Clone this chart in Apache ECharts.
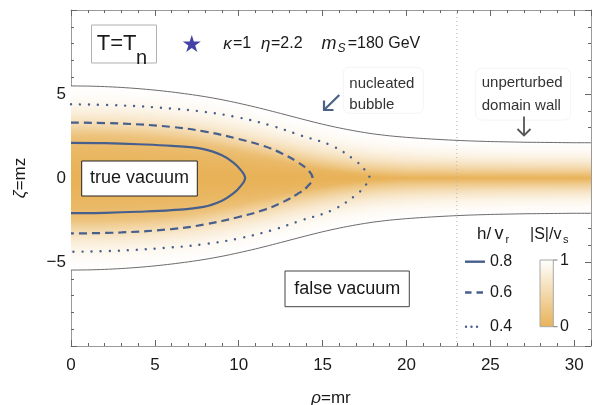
<!DOCTYPE html>
<html><head><meta charset="utf-8">
<script src="https://cdn.jsdelivr.net/npm/echarts@6/dist/echarts.min.js"></script>
<style>html,body{margin:0;padding:0;background:#fff}#c{width:598px;height:405px}</style>
</head><body><div id="c"></div>
<script>
const FONT = "'Liberation Sans', Arial, sans-serif";

// ---- data ----
const xRange = [0, 31];
const yRange = [-10, 10];
const xMajor = 5, yMajor = 5, minorStep = 1;
// envelope (outer boundary of the |S| region), upper half-width vs rho
const envX    = [0,1,2,3,4,5,6,7,8,9,10,11,12,13,14,15,16,17,18,19,20,21,22,23,24,25,26,27,28,29,30,31];
const envHalf = [5.48,5.47,5.44,5.39,5.32,5.23,5.12,4.99,4.84,4.66,4.45,4.22,3.97,3.71,3.45,3.20,2.98,2.79,2.63,2.51,2.42,2.35,2.29,2.24,2.20,2.17,2.15,2.13,2.12,2.11,2.10,2.10];
// half-width of the saturated (|S|~0) core
const coreHalf = [2.5,2.5,2.48,2.45,2.4,2.33,2.24,2.12,1.98,1.8,1.6,1.38,1.15,0.92,0.7,0.52,0.36,0.22,0.12,0.05,0,0,0,0,0,0,0,0,0,0,0,0];
// h/v_r contours (upper halves)
const solidX = [0,2,4,6,7.9,9,9.68,10.1,10.38];
const solidY = [2.09,2.07,2.01,1.91,1.72,1.35,0.92,0.5,0];
const dashX  = [0,3,6,8,10,11.5,12.6,13.5,14.1,14.4];
const dashY  = [3.3,3.24,3.04,2.76,2.32,1.9,1.45,0.95,0.5,0];
const dotX   = [0,3,6,8,10,12,13.65,15.6,17,17.5,17.8];
const dotY   = [4.39,4.32,4.13,3.93,3.6,3.1,2.55,1.9,1.0,0.5,0];
const wallLineX = 23;
const starPt = [7.2, 8.0];
const contourLevels = ['0.8','0.6','0.4'];
const cbarLabels = ['1','0'];

// ---- styling helpers ----
const ORANGE = [232,178,88];
function mix(S){
  const c = ORANGE.map(v => Math.round(v + (255 - v) * S));
  return `rgb(${c[0]},${c[1]},${c[2]})`;
}
const K = 1.8;
function sProfile(d, f){
  const s0 = 0.2 * Math.min(1, f / 0.4);
  if (f > 0 && d < f) return s0 * (d / f) * (d / f);
  const u = (d - f) / (1 - f);
  return s0 + (1 - s0) * Math.tanh(K * u) / Math.tanh(K);
}
function buildStops(f){
  const st = [];
  const N = 30;
  for (let k = 0; k <= N; k++){
    const d = k / N;
    const col = mix(Math.min(1, Math.max(0, sProfile(d, f))));
    st.push({offset: 0.5 - 0.5 * d, color: col});
    if (k > 0) st.push({offset: 0.5 + 0.5 * d, color: col});
  }
  st.sort((a, b) => a.offset - b.offset);
  return st;
}
const fillData = envX.slice(0, -1).map((x, i) => [x, envX[i+1], envHalf[i], envHalf[i+1], coreHalf[i], coreHalf[i+1]]);
function closedContour(xs, ys){
  const up = xs.map((x, i) => [x, ys[i]]);
  const lo = [];
  for (let i = xs.length - 2; i >= 0; i--) lo.push([xs[i], -ys[i]]);
  return up.concat(lo);
}
const LINE_COL = '#475F8C';

function txt(x, y, text, size, o = {}){
  const al = o.align || 'left', va = o.va || 'middle';
  const style = {x, y, text, font: `${o.italic ? 'italic ' : ''}${size}px ${FONT}`, fill: o.color || '#1a1a1a',
    textAlign: al, textVerticalAlign: va, align: al, verticalAlign: va};
  if (o.rich) style.rich = o.rich;
  return {type: 'text', silent: true, z: 100, style};
}
function rect(x, y, w, h, stroke, o = {}){
  return {type: 'rect', silent: true, z: 90, shape: {x, y, width: w, height: h, r: o.r || 0},
    style: {fill: o.fill || '#fff', stroke, lineWidth: o.lw || 1}};
}
function line(x1, y1, x2, y2, stroke, lw, o = {}){
  return {type: 'line', silent: true, z: 95, shape: {x1, y1, x2, y2},
    style: {stroke, lineWidth: lw, lineDash: o.dash || null, lineCap: o.cap || 'butt'}};
}
function poly(points, stroke, lw){
  return {type: 'polyline', silent: true, z: 95, shape: {points}, style: {stroke, lineWidth: lw, fill: null, lineJoin: 'miter'}};
}
const richBase = (size) => ({
  i: {fontStyle: 'italic', fontSize: size, fontFamily: FONT, color: '#1a1a1a'},
  n: {fontSize: size, fontFamily: FONT, color: '#1a1a1a'}
});

const graphics = [
  // T = T_n label
  rect(91.5, 25, 65, 38, '#b0b0b0'),
  txt(96.7, 44, 'T=T', 22),
  txt(136, 58.5, 'n', 20),
  // parameters
  txt(223.3, 44, 'κ', 17, {italic: true}),
  txt(233, 44, '=1', 16),
  txt(261, 44, 'η', 17, {italic: true}),
  txt(271, 44, '=2.2', 16),
  txt(329, 44, 'm', 18, {italic: true, align: 'center'}),
  txt(337.5, 49, 'S', 12, {italic: true}),
  txt(347.7, 44, '=180 GeV', 16),
  // nucleated bubble
  rect(343.3, 67.3, 80, 46, '#f4f4f4', {r: 6}),
  txt(349.3, 84, 'nucleated', 15, {color: '#333'}),
  txt(349.3, 105, 'bubble', 15, {color: '#333'}),
  line(339.3, 95, 324.5, 109.5, '#4C6285', 2.2),
  poly([[324, 100.5], [324, 110], [333.5, 110]], '#4C6285', 2.2),
  // unperturbed domain wall
  rect(475.7, 68.3, 95, 51.7, '#f4f4f4', {r: 6}),
  txt(481.7, 83.3, 'unperturbed', 15, {color: '#333'}),
  txt(481.7, 106, 'domain wall', 15, {color: '#333'}),
  line(524, 116.5, 524, 135.5, '#555', 1.8),
  poly([[517.5, 129], [524, 135.5], [530.5, 129]], '#555', 1.8),
  // vacuum boxes
  rect(81.7, 161, 115.6, 35, '#222'),
  txt(139.5, 178.5, 'true vacuum', 18, {align: 'center'}),
  rect(285, 271, 124.3, 35.7, '#444'),
  txt(347.2, 289, 'false vacuum', 18, {align: 'center'}),
  // legend: h/v_r
  txt(477, 234.4, 'h', 17),
  txt(486.5, 234.4, '/', 17),
  txt(494.5, 234.4, 'v', 18),
  txt(505.5, 239.5, 'r', 11),
  line(465, 261.7, 485, 261.7, LINE_COL, 2.4),
  line(465, 292.5, 485, 292.5, LINE_COL, 2.4, {dash: [6.5, 5]}),
  line(466, 326.7, 481, 326.7, LINE_COL, 2.4, {dash: [0.01, 5.5], cap: 'round'}),
  txt(490, 261.7, contourLevels[0], 16),
  txt(490, 293, contourLevels[1], 16),
  txt(490, 326.7, contourLevels[2], 16),
  // legend: |S|/v_s colour bar
  txt(530, 234.4, '|S|/v', 16),
  txt(563, 239.5, 's', 11),
  {type: 'rect', silent: true, z: 90, shape: {x: 540, y: 260, width: 13.3, height: 66.7},
    style: {fill: {type: 'linear', x: 0, y: 0, x2: 0, y2: 1, colorStops: [{offset: 0, color: mix(1)}, {offset: 1, color: mix(0)}]},
    stroke: '#a8a8a8', lineWidth: 1}},
  line(553.3, 260, 557.5, 260, '#777', 1),
  line(553.3, 326.7, 557.5, 326.7, '#777', 1),
  txt(560, 261, cbarLabels[0], 16),
  txt(560, 326.5, cbarLabels[1], 16),
];

const tickCol = '#666', frameCol = '#9a9a9a';
function xAxisDef(pos, interval, major){
  return {type: 'value', min: xRange[0], max: xRange[1], interval, position: pos, gridIndex: 0,
    axisLine: {show: major, onZero: false, lineStyle: {color: frameCol, width: 1}},
    axisTick: {show: true, inside: true, length: major ? 6 : 3, lineStyle: {color: tickCol, width: 1}},
    axisLabel: {show: major && pos === 'bottom', fontSize: 17, color: '#1a1a1a', fontFamily: FONT, margin: 11,
      formatter: v => (v % xMajor === 0 ? String(v) : '')},
    splitLine: {show: false},
    name: (major && pos === 'bottom') ? '{i|ρ}{n|=mr}' : '', nameLocation: 'middle', nameGap: 44,
    nameTextStyle: {rich: richBase(17)}};
}
function yAxisDef(pos, interval, major){
  return {type: 'value', min: yRange[0], max: yRange[1], interval, position: pos, gridIndex: 0,
    axisLine: {show: major, onZero: false, lineStyle: {color: frameCol, width: 1}},
    axisTick: {show: true, inside: true, length: major ? 6 : 3, lineStyle: {color: tickCol, width: 1}},
    axisLabel: {show: major && pos === 'left', fontSize: 17, color: '#1a1a1a', fontFamily: FONT, margin: 5,
      formatter: v => (Math.abs(v) === 10 ? '' : String(v).replace('-', '\u2212'))},
    splitLine: {show: false},
    name: (major && pos === 'left') ? '{i|ζ}{n|=mz}' : '', nameLocation: 'middle', nameGap: 42, nameRotate: 90,
    nameTextStyle: {rich: richBase(17)}};
}

const SUB = 6;
const chart = echarts.init(document.getElementById('c'), null, {renderer: 'canvas'});
chart.setOption({
  animation: false,
  backgroundColor: '#fff',
  grid: {left: 71, right: 7, top: 10, bottom: 59, containLabel: false, outerBoundsMode: 'none'},
  xAxis: [xAxisDef('bottom', xMajor, true), xAxisDef('bottom', minorStep, false), xAxisDef('top', xMajor, true), xAxisDef('top', minorStep, false)],
  yAxis: [yAxisDef('left', yMajor, true), yAxisDef('left', minorStep, false), yAxisDef('right', yMajor, true), yAxisDef('right', minorStep, false)],
  series: [
    {type: 'custom', xAxisIndex: 0, yAxisIndex: 0, clip: true, silent: true, z: 1,
      data: fillData,
      renderItem: (params, api) => {
        const x0 = api.value(0), x1 = api.value(1), h0 = api.value(2), h1 = api.value(3), c0 = api.value(4), c1 = api.value(5);
        const children = [];
        for (let j = 0; j < SUB; j++){
          const t0 = j / SUB, t1 = (j + 1) / SUB, tm = (t0 + t1) / 2;
          const xa = x0 + (x1 - x0) * t0, xb = x0 + (x1 - x0) * t1;
          const ha = h0 + (h1 - h0) * t0, hb = h0 + (h1 - h0) * t1, hm = h0 + (h1 - h0) * tm;
          const cm = c0 + (c1 - c0) * tm;
          const a = api.coord([xa, ha]), b = api.coord([xb, hb]), c = api.coord([xb, -hb]), d = api.coord([xa, -ha]);
          const pad = 0.6;
          a[0] -= pad; d[0] -= pad; b[0] += pad; c[0] += pad;
          const top = api.coord([xa, hm])[1], bot = api.coord([xa, -hm])[1];
          children.push({type: 'polygon', shape: {points: [a, b, c, d]},
            style: {fill: {type: 'linear', x: 0, y: top, x2: 0, y2: bot, global: true, colorStops: buildStops(cm / hm)}}});
        }
        return {type: 'group', children};
      }},
    {type: 'line', name: 'envUp', xAxisIndex: 0, yAxisIndex: 0, data: envX.map((x, i) => [x, envHalf[i]]), smooth: 0.3,
      symbol: 'none', silent: true, z: 3, lineStyle: {color: '#5a5a5a', width: 0.9}},
    {type: 'line', name: 'envLo', xAxisIndex: 0, yAxisIndex: 0, data: envX.map((x, i) => [x, -envHalf[i]]), smooth: 0.3,
      symbol: 'none', silent: true, z: 3, lineStyle: {color: '#5a5a5a', width: 0.9}},
    {type: 'line', name: contourLevels[0], data: closedContour(solidX, solidY), smooth: 0.4, symbol: 'none', silent: true, z: 4,
      lineStyle: {color: LINE_COL, width: 2.2}},
    {type: 'line', name: contourLevels[1], data: closedContour(dashX, dashY), smooth: 0.4, symbol: 'none', silent: true, z: 4,
      lineStyle: {color: LINE_COL, width: 2.2, type: [8, 5]}},
    {type: 'line', name: contourLevels[2], data: closedContour(dotX, dotY), smooth: 0.4, symbol: 'none', silent: true, z: 4,
      lineStyle: {color: LINE_COL, width: 2.4, type: [0.01, 9], cap: 'round'}},
    {type: 'line', name: 'wall', data: [[wallLineX, yRange[0]], [wallLineX, yRange[1]]], symbol: 'none', silent: true, z: 5,
      lineStyle: {color: '#b5b5b5', width: 1, type: [1, 3]}},
    {type: 'scatter', name: 'star', data: [starPt], silent: true, z: 6,
      symbol: 'path://M50,0 L61.2,34.5 97.6,34.5 68.2,55.9 79.4,90.5 50,69.1 20.6,90.5 31.8,55.9 2.4,34.5 38.8,34.5 Z',
      symbolSize: [18, 17], itemStyle: {color: '#14148f'}}
  ],
  graphic: graphics
});
</script></body></html>
